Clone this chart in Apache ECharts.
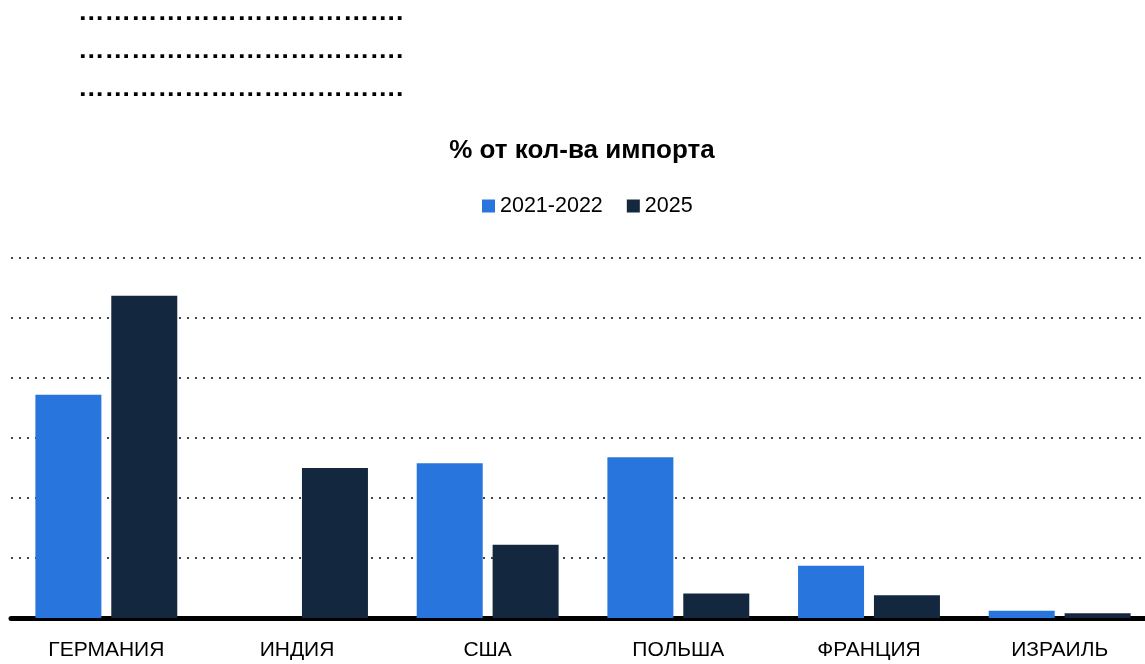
<!DOCTYPE html>
<html lang="ru">
<head>
    <meta charset="UTF-8">
    <title>% от кол-ва импорта</title>
    <script src="https://cdn.jsdelivr.net/npm/echarts@6/dist/echarts.min.js"></script>
    <style>
        html, body { margin: 0; padding: 0; background: #fff; }
    </style>
</head>
<body>
<div id="main" style="width: 1145px;height:664px;"></div>
<script type="text/javascript">
    // категории и значения
    var countries = ["ГЕРМАНИЯ", "ИНДИЯ", "США", "ПОЛЬША", "ФРАНЦИЯ", "ИЗРАИЛЬ"];
    var seriesNames = ["2021-2022", "2025"];
    var values2122 = [3.72, 0, 2.58, 2.68, 0.87, 0.12];
    var values2025 = [5.37, 2.5, 1.22, 0.41, 0.38, 0.08];
    var dots = "………………………………" + ".";
    var placeholderLines = [dots, dots, dots];

    var font = "'Liberation Sans', Arial, sans-serif";

    var myChart = echarts.init(document.getElementById('main'));
    myChart.setOption({
        animation: false,
        backgroundColor: '#fff',
        title: {
            text: "% от кол-ва импорта",
            left: 577,
            top: 133,
            textAlign: 'center',
            textStyle: {
                fontFamily: font,
                fontWeight: 'bold',
                fontSize: 26,
                color: '#000'
            }
        },
        // строки-заглушки из точек сверху
        graphic: placeholderLines.map(function (t, i) {
            return {
                type: 'text',
                left: 78,
                top: -1 + i * 38,
                style: {
                    text: t,
                    font: "bold 26.5px 'Liberation Sans', Arial, sans-serif",
                    fill: '#000'
                }
            };
        }),
        legend: {
            data: seriesNames,
            left: 477,
            top: 190,
            itemWidth: 13,
            itemHeight: 13,
            itemGap: 24,
            icon: 'rect',
            textStyle: {
                fontFamily: font,
                fontSize: 21.5,
                color: '#000'
            }
        },
        grid: {
            left: 11,
            top: 258,
            width: 1144,
            height: 360,
            outerBoundsMode: 'none'
        },
        xAxis: {
            type: 'category',
            data: countries,
            axisTick: { show: false },
            axisLine: { lineStyle: { color: '#000', width: 5 } },
            axisLabel: {
                margin: 22,
                fontFamily: font,
                fontSize: 21,
                color: '#000'
            }
        },
        yAxis: {
            type: 'value',
            min: 0,
            max: 6,
            interval: 1,
            axisLabel: { show: false },
            axisLine: { show: false },
            axisTick: { show: false },
            splitLine: {
                lineStyle: {
                    color: '#444',
                    width: 2,
                    type: [2, 6]
                }
            }
        },
        series: [
            {
                name: seriesNames[0],
                type: 'bar',
                data: values2122,
                barWidth: 66,
                barGap: '15%',
                itemStyle: { color: '#2876DD' }
            },
            {
                name: seriesNames[1],
                type: 'bar',
                data: values2025,
                barWidth: 66,
                itemStyle: { color: '#13283F' }
            }
        ]
    });
</script>
</body>
</html>
